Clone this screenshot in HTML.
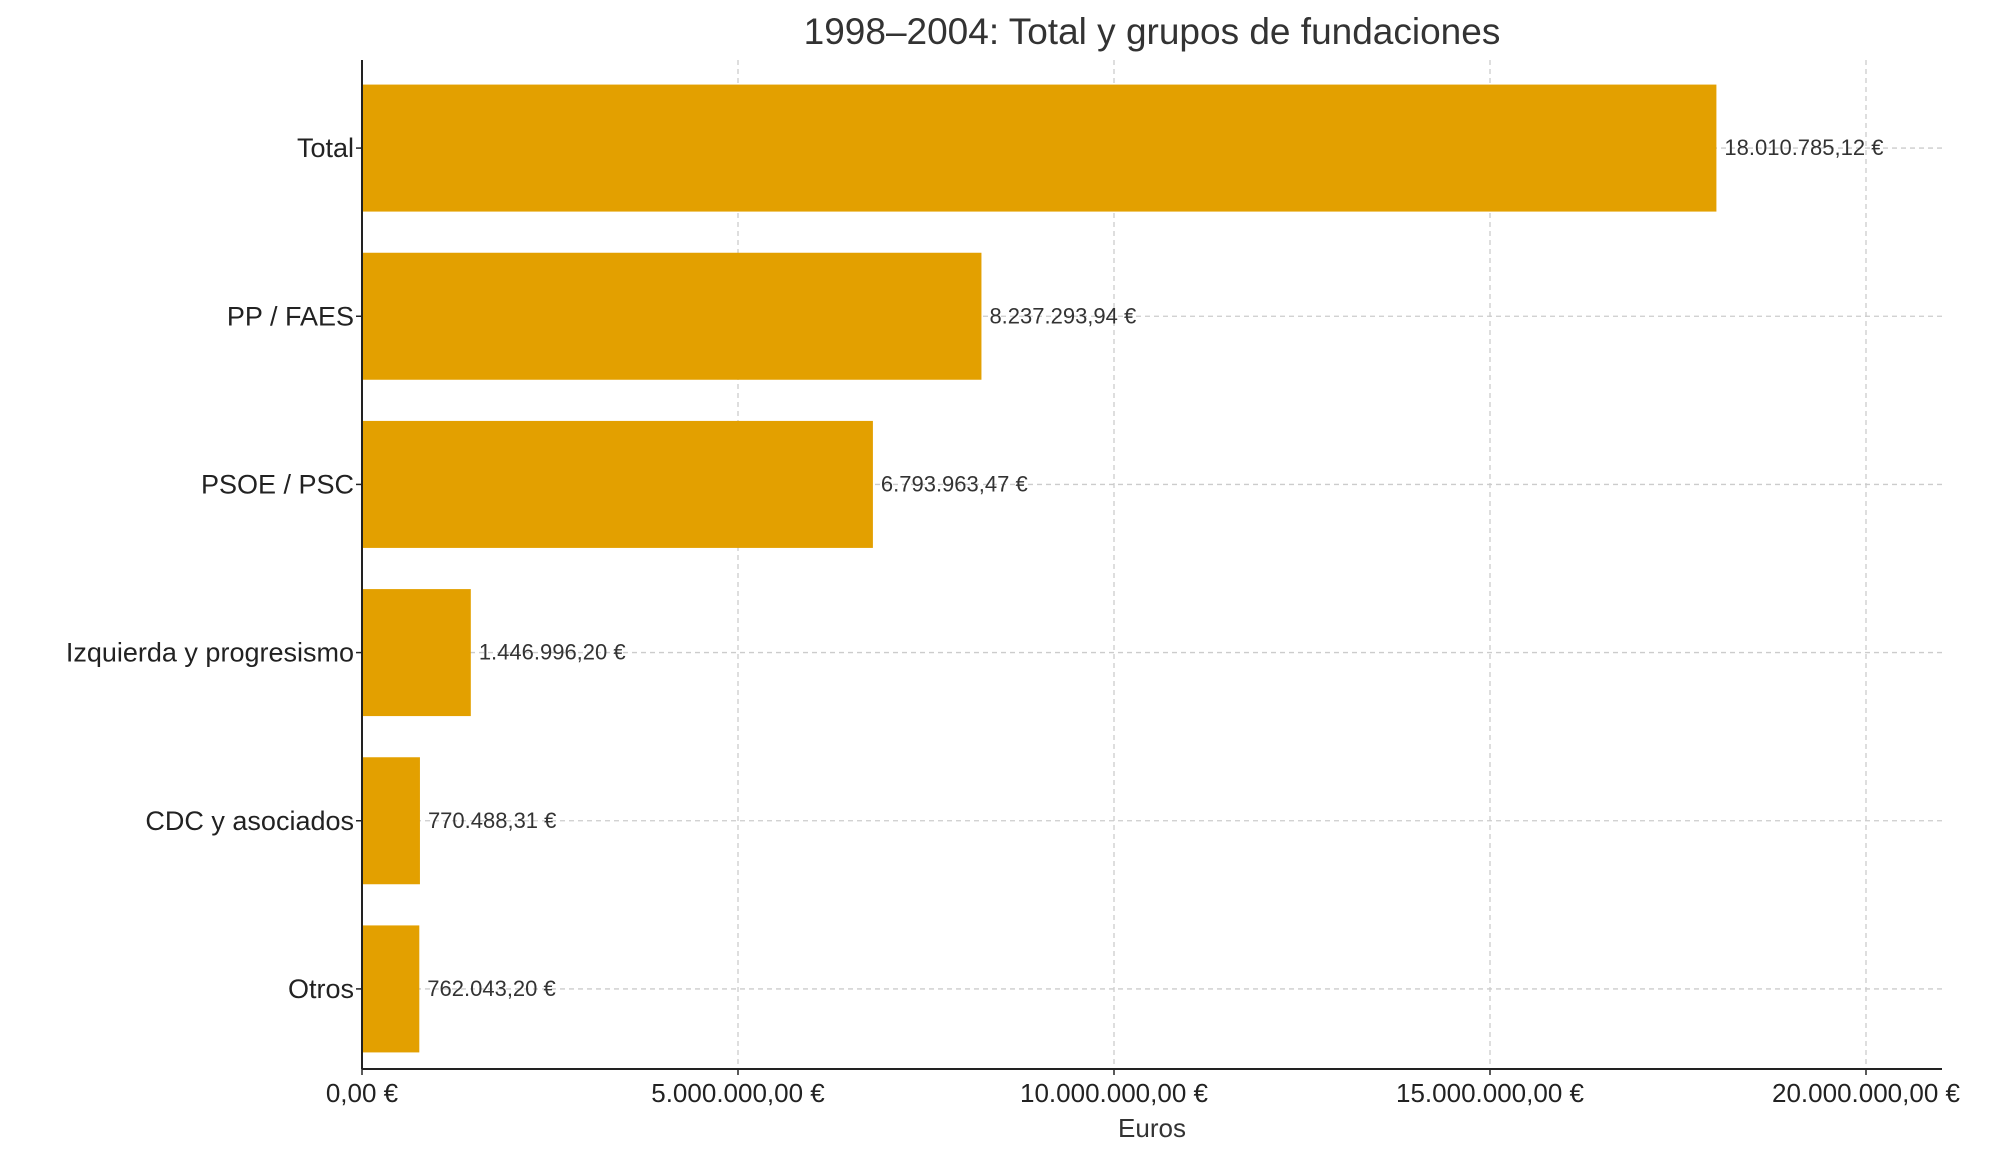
<!DOCTYPE html>
<html><head><meta charset="utf-8"><style>
body{margin:0;background:#fff;}
svg{display:block;font-family:"Liberation Sans","DejaVu Sans",sans-serif;}
</style></head><body>
<svg id="chart" width="2000" height="1160">
<text x="1152" y="44" text-anchor="middle" font-size="37" fill="#333">1998–2004: Total y grupos de fundaciones</text>
<g id="grid"></g><g id="bars"></g><g id="axes"></g>
<text x="1152" y="1137" text-anchor="middle" font-size="26" fill="#333">Euros</text>
</svg>
<script>
const categories=["Total","PP / FAES","PSOE / PSC","Izquierda y progresismo","CDC y asociados","Otros"];
const values=[18010785.12,8237293.94,6793963.47,1446996.20,770488.31,762043.20];
const valueLabels=["18.010.785,12 €","8.237.293,94 €","6.793.963,47 €","1.446.996,20 €","770.488,31 €","762.043,20 €"];
const ticks=[0,5000000,10000000,15000000,20000000];
const tickLabels=["0,00 €","5.000.000,00 €","10.000.000,00 €","15.000.000,00 €","20.000.000,00 €"];
const NS="http://www.w3.org/2000/svg";
const x0=362,x1=1866,xMax=20000000,yTop=60,yBot=1069,right=1942;
const xs=v=>x0+(x1-x0)*v/xMax;
const band=(yBot-yTop)/categories.length;
const yc=i=>yTop+band*(i+0.5)+4;
const bh=127;
function mk(tag,attrs,parent,text){const e=document.createElementNS(NS,tag);for(const k in attrs)e.setAttribute(k,attrs[k]);if(text!==undefined)e.textContent=text;parent.appendChild(e);return e;}
const grid=document.getElementById('grid'),bars=document.getElementById('bars'),axes=document.getElementById('axes');
ticks.forEach((t,i)=>{
 if(i>0){const l=mk('line',{x1:xs(t),x2:xs(t),y1:yTop,y2:yBot,stroke:'#ccc','stroke-width':1.3,'stroke-dasharray':'5,4'},grid);
 
 }
 const tk=mk('line',{x1:xs(t),x2:xs(t),y1:yBot,y2:yBot+6,stroke:'#222','stroke-width':1.5},axes);
 
 
 const tl=mk('text',{x:xs(t),y:yBot+33,'text-anchor':'middle','font-size':26,fill:'#222'},axes,tickLabels[i]);
 
 
});
categories.forEach((c,i)=>{
 const y=yc(i);
 const g=mk('line',{x1:x0,x2:right,y1:y,y2:y,stroke:'#ccc','stroke-width':1.3,'stroke-dasharray':'5,4'},grid);
 
 
 const r=mk('rect',{x:x0,y:y-bh/2,width:xs(values[i])-x0,height:bh,fill:'#E3A000'},bars);
 
 
 const vl=mk('text',{x:xs(values[i])+8,y:y+7,'font-size':22,fill:'#333'},bars,valueLabels[i]);
 
 
 const tk=mk('line',{x1:x0-6,x2:x0,y1:y,y2:y,stroke:'#222','stroke-width':1.5},axes);
 
 
 const cl=mk('text',{x:x0-8,y:y+9,'text-anchor':'end','font-size':27,fill:'#222'},axes,c);
 
 
});
const la=mk('line',{x1:x0,x2:x0,y1:yTop,y2:yBot,stroke:'#222','stroke-width':2},axes);


const ba=mk('line',{x1:x0,x2:right,y1:yBot,y2:yBot,stroke:'#222','stroke-width':2},axes);


</script>
</body></html>
